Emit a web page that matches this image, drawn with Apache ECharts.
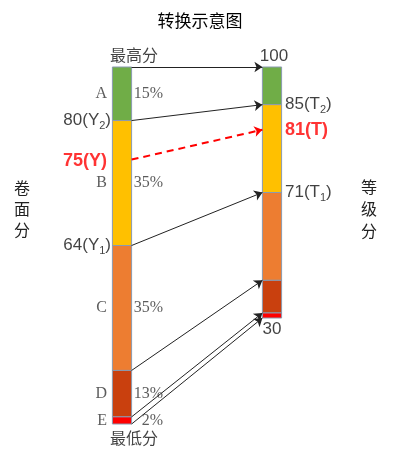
<!DOCTYPE html>
<html>
<head>
<meta charset="utf-8">
<script src="https://cdn.jsdelivr.net/npm/echarts/dist/echarts.min.js"></script>
<style>
html,body{margin:0;padding:0;background:#fff;}
#chart{width:400px;height:466px;}
</style>
</head>
<body>
<div id="chart"></div>
<script>
// ---------- data ----------
const grades = ['A', 'B', 'C', 'D', 'E'];
const gradeShares = [15, 35, 35, 13, 2];          // percent of candidates per grade
const rawCutScores = [80, 64];                    // raw score cut points (Y2, Y1)
const rawCutNames = ['Y', 'Y'];
const rawCutSubs = ['2', '1'];
const levelCutScores = [85, 71];                  // level score cut points (T2, T1)
const levelCutNames = ['T', 'T'];
const levelCutSubs = ['2', '1'];
const levelTop = 100;
const levelBottom = 30;
const rawScore = 75;                              // example raw score Y
const levelScore = 81;                            // converted level score T
const rawTopLabel = '最高分';
const rawBottomLabel = '最低分';
const titleText = '转换示意图';
const rawAxisName = '卷面分';
const levelAxisName = '等级分';

// ---------- styles / layout ----------
const gradeColors = ['#70AD47', '#FFC000', '#ED7D31', '#C9400E', '#FF0000'];
const LEFT_X = 1, RIGHT_X = 3, HALF = 0.128;
const RIGHT_SCALE = 251 / 357;   // right bar is shorter than left bar
const numFont = 'Liberation Sans';
const serifFont = 'Liberation Serif';

// ---------- derived ----------
const cum = [0];
gradeShares.forEach(s => cum.push(cum[cum.length - 1] + s));
const bandB = 1;
function rawPct(v) {
  return cum[bandB] + (rawCutScores[0] - v) / (rawCutScores[0] - rawCutScores[1]) * gradeShares[bandB];
}
function levelPct(v) {
  return (cum[bandB] + (levelCutScores[0] - v) / (levelCutScores[0] - levelCutScores[1]) * gradeShares[bandB]) * RIGHT_SCALE;
}

const barData = [];
[[LEFT_X, 1], [RIGHT_X, RIGHT_SCALE]].forEach(([x, s]) => {
  grades.forEach((g, i) => barData.push([x, cum[i] * s, cum[i + 1] * s, i]));
});

const arrowData = cum.map(c => ({ coords: [[LEFT_X + HALF, c], [RIGHT_X - HALF, c * RIGHT_SCALE]] }));
const dashData = [{ coords: [[LEFT_X + HALF, rawPct(rawScore)], [RIGHT_X - HALF, levelPct(levelScore)]] }];

const mids = grades.map((g, i) => (cum[i] + cum[i + 1]) / 2);

const subRich = {
  n: { fontFamily: numFont, fontSize: 17, color: '#111', lineHeight: 22 },
  s: { fontFamily: numFont, fontSize: 11, color: '#111', lineHeight: 11, verticalAlign: 'bottom' }
};

function labelSeries(data, label) {
  return {
    type: 'scatter', symbolSize: 0, silent: true, z: 5,
    data: data, label: Object.assign({ show: true }, label)
  };
}

const chart = echarts.init(document.getElementById('chart'));
chart.setOption({
  animation: false,
  backgroundColor: '#fff',
  title: [
    { text: titleText, left: 'center', top: 7, textStyle: { fontFamily: 'Noto Sans CJK SC', fontSize: 17, fontWeight: 'normal', color: '#000' } },
    { text: rawAxisName.split('').join('\n'), left: 9, top: 172, textStyle: { fontFamily: 'Noto Sans CJK SC', fontSize: 16, fontWeight: 'normal', lineHeight: 21, color: '#222' } },
    { text: levelAxisName.split('').join('\n'), left: 356, top: 171, textStyle: { fontFamily: 'Noto Sans CJK SC', fontSize: 16, fontWeight: 'normal', lineHeight: 22, color: '#222' } }
  ],
  grid: { left: 47, right: 53, top: 67, bottom: 42 },
  xAxis: { type: 'value', min: 0, max: 4, show: false },
  yAxis: { type: 'value', min: 0, max: 100, inverse: true, show: false },
  series: [
    {
      type: 'custom', z: 2,
      data: barData,
      renderItem: function (params, api) {
        const x = api.value(0), y0 = api.value(1), y1 = api.value(2), idx = api.value(3);
        const p0 = api.coord([x - HALF, y0]);
        const p1 = api.coord([x + HALF, y1]);
        return {
          type: 'rect',
          shape: { x: p0[0], y: p0[1], width: p1[0] - p0[0], height: p1[1] - p0[1] },
          style: { fill: gradeColors[idx], stroke: '#8A9AB0', lineWidth: 1 }
        };
      }
    },
    {
      type: 'lines', coordinateSystem: 'cartesian2d', z: 3, clip: false,
      symbol: ['none', 'arrow'], symbolSize: 8,
      lineStyle: { color: '#222', width: 1, opacity: 1 },
      data: arrowData
    },
    {
      type: 'lines', coordinateSystem: 'cartesian2d', z: 3, clip: false,
      symbol: ['none', 'arrow'], symbolSize: 8,
      lineStyle: { color: '#FF0000', width: 2, type: [7, 5], opacity: 1 },
      data: dashData
    },
    // grade letters
    labelSeries(mids.map(m => [LEFT_X, m]), {
      position: [-15, 0], align: 'right', verticalAlign: 'middle',
      formatter: p => grades[p.dataIndex],
      fontFamily: serifFont, fontSize: 16, color: '#333'
    }),
    // percentages
    labelSeries(mids.map(m => [LEFT_X, m]), {
      position: [41, 0], align: 'right', verticalAlign: 'middle',
      formatter: p => gradeShares[p.dataIndex] + '%',
      fontFamily: serifFont, fontSize: 16, color: '#333'
    }),
    // raw cut labels
    labelSeries(rawCutScores.map(v => [LEFT_X, rawPct(v)]), {
      position: [-11, 0], align: 'right', verticalAlign: 'middle',
      formatter: p => '{n|' + rawCutScores[p.dataIndex] + '(' + rawCutNames[p.dataIndex] + '}{s|' + rawCutSubs[p.dataIndex] + '}{n|)}',
      rich: subRich
    }),
    // level cut labels
    labelSeries(levelCutScores.map(v => [RIGHT_X, levelPct(v)]), {
      position: [13, 0], align: 'left', verticalAlign: 'middle',
      formatter: p => '{n|' + levelCutScores[p.dataIndex] + '(' + levelCutNames[p.dataIndex] + '}{s|' + levelCutSubs[p.dataIndex] + '}{n|)}',
      rich: subRich
    }),
    // example raw score
    labelSeries([[LEFT_X, rawPct(rawScore)]], {
      position: [-15, 1], align: 'right', verticalAlign: 'middle',
      formatter: () => rawScore + '(Y)',
      fontFamily: numFont, fontSize: 18, fontWeight: 'bold', color: '#FF0000'
    }),
    // converted level score
    labelSeries([[RIGHT_X, levelPct(levelScore)]], {
      position: [13, 0], align: 'left', verticalAlign: 'middle',
      formatter: () => levelScore + '(T)',
      fontFamily: numFont, fontSize: 18, fontWeight: 'bold', color: '#FF0000'
    }),
    // raw top / bottom
    labelSeries([[LEFT_X, cum[0]]], {
      position: [12, -12], align: 'center', verticalAlign: 'middle',
      formatter: () => rawTopLabel,
      fontFamily: 'Noto Sans CJK SC', fontSize: 16, color: '#111'
    }),
    labelSeries([[LEFT_X, cum[cum.length - 1]]], {
      position: [12, 14], align: 'center', verticalAlign: 'middle',
      formatter: () => rawBottomLabel,
      fontFamily: 'Noto Sans CJK SC', fontSize: 16, color: '#111'
    }),
    // level top / bottom
    labelSeries([[RIGHT_X, cum[0] * RIGHT_SCALE]], {
      position: [2, -11], align: 'center', verticalAlign: 'middle',
      formatter: () => String(levelTop),
      fontFamily: numFont, fontSize: 17, color: '#111'
    }),
    labelSeries([[RIGHT_X, cum[cum.length - 1] * RIGHT_SCALE]], {
      position: [0, 11], align: 'center', verticalAlign: 'middle',
      formatter: () => String(levelBottom),
      fontFamily: numFont, fontSize: 17, color: '#111'
    })
  ]
});
</script>
</body>
</html>
